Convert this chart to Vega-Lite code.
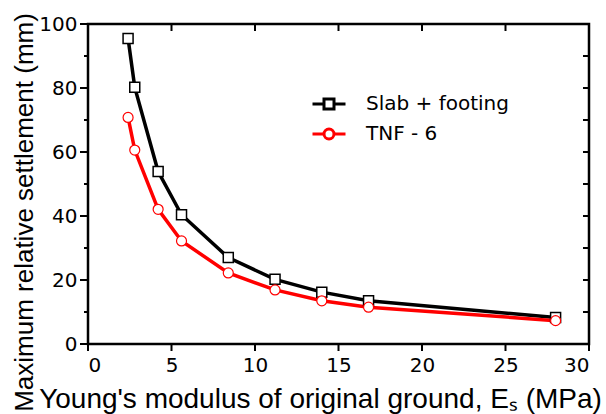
{
  "$schema": "https://vega.github.io/schema/vega-lite/v6.json",
  "width": 501,
  "height": 320,
  "autosize": {"type": "none"},
  "padding": {"left": 88, "top": 24, "right": 17, "bottom": 70},
  "background": "white",
  "config": {
    "view": {"stroke": "black", "strokeWidth": 2.5},
    "axis": {
      "grid": false,
      "domain": false,
      "ticks": false,
      "tickSize": 0,
      "labelFont": "DejaVu Sans",
      "labelFontSize": 20,
      "labelColor": "black",
      "titleFont": "Liberation Sans",
      "titleFontWeight": "normal",
      "titleColor": "black"
    },
    "legend": {
      "orient": "none",
      "legendX": 231,
      "legendY": 70,
      "title": null,
      "labelFont": "DejaVu Sans",
      "labelFontSize": 20,
      "labelColor": "black",
      "labelOffset": 27,
      "rowPadding": 8,
      "symbolSize": 100,
      "symbolStrokeWidth": 3,
      "symbolFillColor": "white",
      "symbolOpacity": 1,
      "padding": 0
    }
  },
  "data": {
    "values": [
      {"es": 2.4, "settlement": 95.5, "series": "Slab + footing"},
      {"es": 2.8, "settlement": 80.2, "series": "Slab + footing"},
      {"es": 4.2, "settlement": 53.9, "series": "Slab + footing"},
      {"es": 5.6, "settlement": 40.4, "series": "Slab + footing"},
      {"es": 8.4, "settlement": 27.0, "series": "Slab + footing"},
      {"es": 11.2, "settlement": 20.2, "series": "Slab + footing"},
      {"es": 14.0, "settlement": 16.2, "series": "Slab + footing"},
      {"es": 16.8, "settlement": 13.5, "series": "Slab + footing"},
      {"es": 28.0, "settlement": 8.3, "series": "Slab + footing"},
      {"es": 2.4, "settlement": 70.8, "series": "TNF - 6"},
      {"es": 2.8, "settlement": 60.6, "series": "TNF - 6"},
      {"es": 4.2, "settlement": 42.1, "series": "TNF - 6"},
      {"es": 5.6, "settlement": 32.2, "series": "TNF - 6"},
      {"es": 8.4, "settlement": 22.2, "series": "TNF - 6"},
      {"es": 11.2, "settlement": 16.9, "series": "TNF - 6"},
      {"es": 14.0, "settlement": 13.5, "series": "TNF - 6"},
      {"es": 16.8, "settlement": 11.5, "series": "TNF - 6"},
      {"es": 28.0, "settlement": 7.3, "series": "TNF - 6"}
    ]
  },
  "layer": [
    {
      "mark": {"type": "line", "strokeWidth": 3.5},
      "encoding": {
        "x": {
          "field": "es", "type": "quantitative",
          "scale": {"domain": [0, 30], "nice": false},
          "axis": {
            "orient": "bottom",
            "values": [0, 5, 10, 15, 20, 25, 30],
            "labelPadding": 11,
            "title": "Young's modulus of original ground, Eₛ (MPa)",
            "titleFontSize": 28,
            "titleX": 232,
            "titleY": 63,
            "titleBaseline": "alphabetic",
            "titleAlign": "center"
          }
        },
        "y": {
          "field": "settlement", "type": "quantitative",
          "scale": {"domain": [0, 100], "nice": false},
          "axis": {
            "orient": "left",
            "values": [0, 20, 40, 60, 80, 100],
            "labelPadding": 11,
            "title": "Maximum relative settlement (mm)",
            "titleFontSize": 26,
            "titleAngle": 270,
            "titleX": -56,
            "titleY": 188,
            "titleBaseline": "alphabetic",
            "titleAlign": "center"
          }
        },
        "stroke": {
          "field": "series", "type": "nominal",
          "scale": {"domain": ["Slab + footing", "TNF - 6"], "range": ["#000000", "#ff0000"]}
        }
      }
    },
    {
      "data": {"values": [{"v": 0}, {"v": 20}, {"v": 40}, {"v": 60}, {"v": 80}, {"v": 100}]},
      "mark": {"type": "tick", "orient": "horizontal", "color": "black", "opacity": 1, "size": 8, "thickness": 2, "xOffset": -4},
      "encoding": {
        "y": {"field": "v", "type": "quantitative", "axis": null},
        "x": {"datum": 0, "type": "quantitative", "axis": null}
      }
    },
    {
      "data": {"values": [{"v": 10}, {"v": 30}, {"v": 50}, {"v": 70}, {"v": 90}]},
      "mark": {"type": "tick", "orient": "horizontal", "color": "black", "opacity": 1, "size": 4, "thickness": 2, "xOffset": -2},
      "encoding": {
        "y": {"field": "v", "type": "quantitative", "axis": null},
        "x": {"datum": 0, "type": "quantitative", "axis": null}
      }
    },
    {
      "data": {"values": [{"v": 10}, {"v": 20}, {"v": 30}, {"v": 40}, {"v": 50}, {"v": 60}, {"v": 70}, {"v": 80}, {"v": 90}]},
      "mark": {"type": "tick", "orient": "horizontal", "color": "black", "opacity": 1, "size": 6, "thickness": 2, "xOffset": -3},
      "encoding": {
        "y": {"field": "v", "type": "quantitative", "axis": null},
        "x": {"datum": 30, "type": "quantitative", "axis": null}
      }
    },
    {
      "data": {"values": [{"v": 0}, {"v": 5}, {"v": 10}, {"v": 15}, {"v": 20}, {"v": 25}, {"v": 30}]},
      "mark": {"type": "tick", "orient": "vertical", "color": "black", "opacity": 1, "size": 7, "thickness": 2, "yOffset": 3.5},
      "encoding": {
        "x": {"field": "v", "type": "quantitative", "axis": null},
        "y": {"datum": 0, "type": "quantitative", "axis": null}
      }
    },
    {
      "data": {"values": [{"v": 5}, {"v": 10}, {"v": 15}, {"v": 20}, {"v": 25}]},
      "mark": {"type": "tick", "orient": "vertical", "color": "black", "opacity": 1, "size": 7, "thickness": 2, "yOffset": 3.5},
      "encoding": {
        "x": {"field": "v", "type": "quantitative", "axis": null},
        "y": {"datum": 100, "type": "quantitative", "axis": null}
      }
    },
    {
      "transform": [{"filter": "datum.series === 'Slab + footing'"}],
      "mark": {"type": "point", "shape": "square", "size": 100, "filled": false, "fill": "white", "fillOpacity": 1, "opacity": 1, "strokeWidth": 1.5},
      "encoding": {
        "x": {"field": "es", "type": "quantitative", "axis": null},
        "y": {"field": "settlement", "type": "quantitative", "axis": null},
        "stroke": {"field": "series", "type": "nominal"}
      }
    },
    {
      "transform": [{"filter": "datum.series === 'TNF - 6'"}],
      "mark": {"type": "point", "shape": "circle", "size": 100, "filled": false, "fill": "white", "fillOpacity": 1, "opacity": 1, "strokeWidth": 1.2},
      "encoding": {
        "x": {"field": "es", "type": "quantitative", "axis": null},
        "y": {"field": "settlement", "type": "quantitative", "axis": null},
        "stroke": {"field": "series", "type": "nominal"}
      }
    },
    {
      "mark": {"type": "point", "size": 100, "filled": false, "fill": "white", "strokeWidth": 3, "opacity": 0},
      "encoding": {
        "x": {"field": "es", "type": "quantitative", "axis": null},
        "y": {"field": "settlement", "type": "quantitative", "axis": null},
        "stroke": {"field": "series", "type": "nominal"},
        "shape": {
          "field": "series", "type": "nominal",
          "scale": {
            "domain": ["Slab + footing", "TNF - 6"],
            "range": [
              "M-3.3,0H-1M1,0H3.3M-1,-1H1V1H-1Z",
              "M-3.3,0H-1M1,0H3.3M-1,0A1,1 0 1,1 1,0A1,1 0 1,1 -1,0Z"
            ]
          }
        }
      }
    }
  ],
  "resolve": {"axis": {"x": "independent", "y": "independent"}}
}
